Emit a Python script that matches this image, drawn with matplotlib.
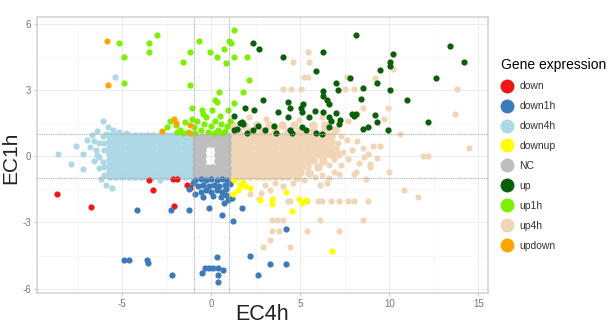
import numpy as np
import matplotlib.pyplot as plt
from matplotlib.lines import Line2D

plt.rcParams['font.family'] = ['Liberation Sans', 'DejaVu Sans']
plt.rcParams['axes.unicode_minus'] = False

# 表达类别与颜色
categories = ['down', 'down1h', 'down4h', 'downup', 'NC', 'up', 'up1h', 'up4h', 'updown']
colors = ['#f41414', '#3d7ab8', '#add8e6', '#ffff00', '#bebebe',
          '#0b5f0b', '#7cf000', '#f0d6b6', '#ffa500']

# 不变基因 (NC)
nc = [(-0.85, 0.88), (-0.55, 0.88), (-0.25, 0.88), (0.05, 0.88), (0.35, 0.88), (0.65, 0.88), (0.88, 0.88),
      (-0.85, 0.6), (-0.55, 0.6), (-0.25, 0.6), (0.05, 0.6), (0.35, 0.6), (0.65, 0.6), (0.88, 0.6),
      (-0.85, 0.32), (-0.55, 0.32), (0.35, 0.32), (0.65, 0.32), (0.88, 0.32),
      (-0.85, 0.04), (-0.55, 0.04), (0.4, 0.04), (0.65, 0.04), (0.88, 0.04),
      (-0.85, -0.24), (-0.55, -0.24), (0.35, -0.24), (0.65, -0.24), (0.88, -0.24),
      (-0.85, -0.52), (-0.55, -0.52), (-0.25, -0.52), (0.05, -0.52), (0.35, -0.52), (0.65, -0.52), (0.88, -0.52),
      (-0.85, -0.8), (-0.55, -0.8), (-0.25, -0.8), (0.05, -0.8), (0.35, -0.8), (0.65, -0.8), (0.88, -0.8)]

# 4h 下调：密集区
down4h = [(-1.15, 0.9), (-1.5, 0.9), (-1.85, 0.9), (-2.2, 0.9), (-2.55, 0.9), (-2.9, 0.9), (-3.25, 0.9),
          (-3.6, 0.9), (-3.95, 0.9), (-4.3, 0.9), (-4.65, 0.9), (-5.0, 0.9), (-5.35, 0.9), (-5.7, 0.9),
          (-1.15, 0.63), (-1.5, 0.63), (-1.85, 0.63), (-2.2, 0.63), (-2.55, 0.63), (-2.9, 0.63), (-3.25, 0.63),
          (-3.6, 0.63), (-3.95, 0.63), (-4.3, 0.63), (-4.65, 0.63), (-5.0, 0.63), (-5.35, 0.63), (-5.7, 0.63),
          (-1.15, 0.36), (-1.5, 0.36), (-1.85, 0.36), (-2.2, 0.36), (-2.55, 0.36), (-2.9, 0.36), (-3.25, 0.36),
          (-3.6, 0.36), (-3.95, 0.36), (-4.3, 0.36), (-4.65, 0.36), (-5.0, 0.36), (-5.35, 0.36), (-5.7, 0.36),
          (-1.15, 0.09), (-1.5, 0.09), (-1.85, 0.09), (-2.2, 0.09), (-2.55, 0.09), (-2.9, 0.09), (-3.25, 0.09),
          (-3.6, 0.09), (-3.95, 0.09), (-4.3, 0.09), (-4.65, 0.09), (-5.0, 0.09), (-5.35, 0.09), (-5.7, 0.09),
          (-1.15, -0.18), (-1.5, -0.18), (-1.85, -0.18), (-2.2, -0.18), (-2.55, -0.18), (-2.9, -0.18), (-3.25, -0.18),
          (-3.6, -0.18), (-3.95, -0.18), (-4.3, -0.18), (-4.65, -0.18), (-5.0, -0.18), (-5.35, -0.18), (-5.7, -0.18),
          (-1.15, -0.45), (-1.5, -0.45), (-1.85, -0.45), (-2.2, -0.45), (-2.55, -0.45), (-2.9, -0.45), (-3.25, -0.45),
          (-3.6, -0.45), (-3.95, -0.45), (-4.3, -0.45), (-4.65, -0.45), (-5.0, -0.45), (-5.35, -0.45), (-5.7, -0.45),
          (-1.15, -0.72), (-1.5, -0.72), (-1.85, -0.72), (-2.2, -0.72), (-2.55, -0.72), (-2.9, -0.72), (-3.25, -0.72),
          (-3.6, -0.72), (-3.95, -0.72), (-4.3, -0.72), (-4.65, -0.72), (-5.0, -0.72), (-5.35, -0.72), (-5.7, -0.72),
          (-1.15, -0.92), (-1.5, -0.92), (-1.85, -0.92), (-2.2, -0.92), (-2.55, -0.92), (-2.9, -0.92), (-3.25, -0.92),
          (-3.6, -0.92), (-3.95, -0.92), (-4.3, -0.92), (-4.65, -0.92), (-5.0, -0.92), (-5.35, -0.92), (-5.7, -0.92)]

# 4h 下调：散点
down4h_sparse = [(-6.1, 1.6), (-5.8, 1.3), (-6.4, 1.15), (-5.5, 1.2), (-5.2, 1.1), (-4.8, 1.05), (-6.7, 0.95),
                 (-7.0, 0.75), (-6.1, 0.9), (-6.3, 0.6), (-6.0, 0.3), (-6.4, 0.05), (-6.1, -0.25), (-6.3, -0.55),
                 (-6.0, -0.85), (-7.2, 0.1), (-7.6, 0.45), (-7.9, -0.35), (-8.6, 0.1), (-7.2, -0.6), (-6.6, -0.2),
                 (-6.8, 0.4), (-6.2, -1.05), (-5.9, -1.3), (-5.6, -1.45), (-2.9, -1.1), (-5.4, 3.6),
                 (-6.5, 0.3), (-6.0, 0.6), (-6.3, -0.05), (-6.0, -0.5), (-6.6, 0.7), (-5.9, 1.0)]

# 4h 上调：密集区
up4h = [(1.15, 1.4), (1.85, 1.4), (2.55, 1.4), (3.25, 1.4), (3.95, 1.4), (4.65, 1.4), (5.7, 1.4), (6.4, 1.4),
        (1.5, 1.15), (2.2, 1.15), (2.9, 1.15), (3.6, 1.15), (4.3, 1.15), (5.0, 1.15), (5.7, 1.15), (6.4, 1.15), (6.95, 1.2),
        (1.15, 0.9), (1.5, 0.9), (1.85, 0.9), (2.2, 0.9), (2.55, 0.9), (2.9, 0.9), (3.25, 0.9), (3.6, 0.9), (3.95, 0.9),
        (4.3, 0.9), (4.65, 0.9), (5.0, 0.9), (5.35, 0.9), (5.7, 0.9), (6.05, 0.9), (6.4, 0.9), (6.75, 0.9),
        (1.15, 0.63), (1.5, 0.63), (1.85, 0.63), (2.2, 0.63), (2.55, 0.63), (2.9, 0.63), (3.25, 0.63), (3.6, 0.63), (3.95, 0.63),
        (4.3, 0.63), (4.65, 0.63), (5.0, 0.63), (5.35, 0.63), (5.7, 0.63), (6.05, 0.63), (6.4, 0.63), (6.75, 0.63),
        (1.15, 0.36), (1.5, 0.36), (1.85, 0.36), (2.2, 0.36), (2.55, 0.36), (2.9, 0.36), (3.25, 0.36), (3.6, 0.36), (3.95, 0.36),
        (4.3, 0.36), (4.65, 0.36), (5.0, 0.36), (5.35, 0.36), (5.7, 0.36), (6.05, 0.36), (6.4, 0.36), (6.75, 0.36),
        (1.15, 0.09), (1.5, 0.09), (1.85, 0.09), (2.2, 0.09), (2.55, 0.09), (2.9, 0.09), (3.25, 0.09), (3.6, 0.09), (3.95, 0.09),
        (4.3, 0.09), (4.65, 0.09), (5.0, 0.09), (5.35, 0.09), (5.7, 0.09), (6.05, 0.09), (6.4, 0.09), (6.75, 0.09), (7.1, 0.1),
        (1.15, -0.18), (1.5, -0.18), (1.85, -0.18), (2.2, -0.18), (2.55, -0.18), (2.9, -0.18), (3.25, -0.18), (3.6, -0.18),
        (3.95, -0.18), (4.3, -0.18), (4.65, -0.18), (5.0, -0.18), (5.35, -0.18), (5.7, -0.18), (6.3, -0.2),
        (1.15, -0.45), (1.5, -0.45), (1.85, -0.45), (2.2, -0.45), (2.55, -0.45), (2.9, -0.45), (3.25, -0.45), (3.6, -0.45),
        (3.95, -0.45), (4.3, -0.45), (4.65, -0.45), (5.0, -0.45), (5.35, -0.45), (6.0, -0.5),
        (1.15, -0.72), (1.5, -0.72), (1.85, -0.72), (2.2, -0.72), (2.55, -0.72), (2.9, -0.72), (3.25, -0.72), (3.6, -0.72),
        (3.95, -0.72), (4.3, -0.72), (4.65, -0.72), (5.0, -0.72), (5.5, -0.75),
        (1.15, -0.92), (1.5, -0.92), (1.85, -0.92), (2.2, -0.92), (2.55, -0.92), (2.9, -0.92), (3.25, -0.92), (3.6, -0.92),
        (3.95, -0.92), (4.3, -0.92), (4.8, -0.95)]

# 4h 上调：散点
up4h_sparse = [(7.1, 0.6), (7.4, 0.2), (7.3, -0.4), (6.9, -0.7), (7.6, 0.75), (8.2, 0.7), (8.5, 0.35), (8.8, 0.1),
               (9.1, 0.45), (9.5, 0.45), (8.6, -0.05), (9.3, -0.1), (8.9, -0.35), (8.1, -0.7), (8.9, -0.5), (10.0, -0.7),
               (10.6, 1.0), (11.9, 0.0), (12.2, 0.0), (14.5, 0.35), (7.9, 0.3), (8.3, -0.3), (7.7, -0.15), (6.2, -0.85),
               (6.6, -1.0), (4.6, 4.25), (5.45, 4.7), (5.5, 4.25), (5.2, 3.6), (5.45, 3.6), (4.0, 3.05), (4.5, 3.05),
               (5.05, 3.05), (7.6, 3.6), (7.5, 3.05), (8.0, 3.05), (9.2, 3.55), (10.2, 3.95), (8.5, 2.2), (9.9, 2.2),
               (9.7, 1.7), (13.8, 3.05), (13.7, 1.9), (7.7, 1.6), (8.2, 1.9), (3.1, 1.7), (2.1, 1.75), (4.9, 1.65),
               (6.2, 1.75), (8.7, -1.05), (10.8, -1.55), (11.6, -1.85), (4.3, -2.05), (4.4, -2.05), (5.4, -2.05),
               (6.0, -2.05), (6.2, -2.05), (6.7, -2.05), (7.2, -2.05), (7.7, -2.05), (8.0, -2.05), (8.8, -2.05),
               (3.4, -2.9), (3.7, -2.9), (4.0, -2.9), (6.1, -2.9), (8.5, -2.9), (3.4, -3.4), (3.8, -3.4), (5.4, -3.4),
               (7.2, -3.4), (3.3, -3.8), (2.9, -4.1), (4.4, -4.1), (5.2, -1.1), (6.1, -1.3), (6.5, -1.2), (7.2, -0.8),
               (8.0, -0.8), (2.2, -1.7), (2.8, -1.65), (2.7, -1.95), (3.0, -1.3), (3.6, -1.2), (4.0, -1.35), (4.6, -1.2),
               (3.3, -1.55), (5.8, -0.95), (6.6, -0.4), (7.0, 0.35), (7.3, 0.9), (6.9, -0.15)]

down = [(-8.65, -1.7), (-6.75, -2.3), (-3.5, -1.1), (-3.25, -1.55), (-2.15, -1.05), (-1.95, -1.05),
        (-2.1, -2.25), (-1.35, -1.3), (-1.2, -1.45)]

down1h = [(-4.2, -2.45), (-2.25, -2.45), (-1.25, -2.45), (-0.15, -2.35), (0.6, -2.65), (1.2, -2.95),
          (1.7, -2.35), (2.15, -4.5), (-4.9, -4.7), (-4.65, -4.7), (-3.6, -4.7), (-3.55, -4.85), (-2.2, -5.4),
          (0.3, -4.55), (-0.35, -5.05), (-0.15, -5.05), (0.1, -5.05), (0.35, -5.05), (-0.5, -5.3), (0.65, -5.15),
          (0.4, -5.4), (0.4, -5.7), (4.2, -3.3), (3.3, -4.9), (4.2, -4.9), (2.6, -5.4),
          (-1.25, -1.5), (-0.9, -1.1), (-0.6, -1.05), (-0.3, -1.1), (0.0, -1.05), (0.3, -1.1), (0.6, -1.05),
          (0.9, -1.1), (-0.75, -1.35), (-0.45, -1.3), (-0.15, -1.35), (0.15, -1.3), (0.45, -1.35), (0.75, -1.3),
          (1.05, -1.25), (-0.6, -1.6), (-0.3, -1.55), (0.0, -1.6), (0.3, -1.55), (0.6, -1.6), (0.85, -1.5),
          (-0.45, -1.85), (0.1, -1.8), (0.55, -1.85), (0.8, -1.75), (0.95, -2.0), (0.7, -2.1), (1.15, -1.9),
          (-1.05, -1.2), (-0.9, -1.7)]

downup = [(1.3, -1.1), (1.6, -1.3), (1.9, -1.35), (2.2, -1.45), (1.5, -1.55), (1.2, -1.7), (1.8, -1.15),
          (2.75, -2.0), (3.4, -1.95), (3.4, -2.15), (4.2, -1.6), (4.9, -1.95), (5.1, -2.1), (5.3, -2.0),
          (4.55, -2.5), (6.8, -4.3)]

up = [(2.35, 5.1), (2.7, 4.85), (4.0, 4.5), (6.3, 4.7), (8.1, 5.5), (13.4, 5.0), (14.2, 4.25), (5.9, 3.85),
      (10.2, 4.6), (10.05, 4.25), (10.05, 4.1), (9.45, 3.9), (9.3, 3.3), (10.05, 3.0), (12.6, 3.55), (11.0, 2.55),
      (12.2, 1.55), (9.95, 1.2), (9.2, 1.85), (9.3, 1.55), (8.8, 1.3), (8.5, 1.25), (8.4, 2.6), (8.5, 3.1),
      (7.8, 3.55), (7.0, 3.3), (7.1, 3.0), (6.3, 2.95), (6.25, 2.7), (6.5, 2.55), (6.6, 2.35), (7.9, 1.9),
      (8.0, 1.8), (8.15, 1.9), (2.9, 2.55), (1.9, 2.2), (2.4, 2.1), (3.75, 2.0), (4.3, 2.45), (4.4, 2.2),
      (5.05, 2.2), (5.15, 2.35), (5.1, 2.0), (5.5, 1.75), (5.8, 2.05), (6.3, 2.0), (4.3, 1.75), (6.6, 1.75),
      (6.7, 1.6), (7.0, 1.95), (7.25, 1.65), (7.15, 1.45), (6.6, 1.3), (1.8, 1.45), (1.75, 1.55), (2.35, 1.2),
      (2.65, 1.35), (3.5, 1.35), (3.65, 1.05), (4.4, 1.2), (4.55, 1.05), (5.1, 1.3), (5.3, 1.2), (5.9, 1.05),
      (6.2, 1.0), (1.25, 1.8), (1.6, 1.5), (1.25, 1.2), (1.45, 1.25), (3.0, 1.2), (2.0, 1.05)]

up1h = [(-5.2, 5.1), (-4.9, 4.5), (-3.5, 5.1), (-3.5, 4.7), (-3.05, 5.5), (-4.9, 3.3), (-1.6, 4.25),
        (-1.2, 4.7), (-0.7, 5.2), (-1.2, 3.2), (-1.1, 2.2), (-0.1, 4.7), (0.3, 4.5), (0.7, 4.85), (0.8, 4.2),
        (1.0, 5.2), (1.1, 5.1), (1.25, 5.7), (1.25, 4.5), (2.0, 4.5), (2.1, 3.45), (0.45, 2.9), (0.2, 2.55),
        (0.3, 2.45), (-0.45, 1.9), (0.05, 2.1), (0.95, 2.1), (1.3, 2.4), (1.8, 2.9),
        (-2.3, 1.6), (-2.0, 1.4), (-1.75, 1.2), (-1.5, 1.55), (-1.9, 1.1), (-1.0, 1.3), (-0.8, 1.6), (-0.6, 1.2),
        (-0.4, 1.45), (-0.2, 1.1), (0.0, 1.35), (0.2, 1.6), (0.35, 1.2), (0.55, 1.45), (0.75, 1.15), (0.9, 1.35),
        (-0.3, 1.75), (0.5, 1.8), (-1.3, 1.1), (-2.5, 1.3), (-0.9, 1.05), (0.15, 1.05), (0.6, 1.05), (1.05, 1.6),
        (-1.6, 1.05), (-1.1, 1.7), (-0.55, 2.1)]

updown = [(-5.85, 5.2), (-5.8, 3.2), (-2.75, 1.15), (-2.1, 1.7), (-1.2, 1.4), (-1.2, 1.05), (-2.0, 1.5)]

# (类别, 点集, 点大小)，按绘制顺序
layers = [('down4h', down4h_sparse, 20), ('up4h', up4h_sparse, 20),
          ('down4h', down4h, 38), ('up4h', up4h, 38), ('NC', nc, 38),
          ('down', down, 20), ('down1h', down1h, 20), ('downup', downup, 20),
          ('up', up, 20), ('up1h', up1h, 20), ('updown', updown, 20)]

fig = plt.figure(figsize=(6.14, 3.32), dpi=100)
ax = fig.add_axes([0.060, 0.117, 0.735, 0.832])

for name, pts, size in layers:
    xy = np.array(pts)
    c = colors[categories.index(name)]
    ax.scatter(xy[:, 0], xy[:, 1], s=size, color=c, linewidths=0, zorder=3)

# 阈值线 |logFC| = 1
for v in (-1, 1):
    ax.axvline(v, color='#aaaaaa', ls=(0, (1, 1)), lw=0.8, zorder=4)
    ax.axhline(v, color='#aaaaaa', ls=(0, (1, 1)), lw=0.8, zorder=4)

ax.set_xlim(-9.8, 15.55)
ax.set_ylim(-6.2, 6.3)
ax.set_xticks([-5, 0, 5, 10, 15])
ax.set_yticks([-6, -3, 0, 3, 6])
ax.set_xticks([-7.5, -2.5, 2.5, 7.5, 12.5], minor=True)
ax.set_yticks([-4.5, -1.5, 1.5, 4.5], minor=True)
ax.grid(which='major', color='#ebebeb', lw=0.7, zorder=0)
ax.grid(which='minor', color='#f4f4f4', lw=0.5, zorder=0)
ax.set_axisbelow(True)
ax.tick_params(which='both', length=2, color='#cccccc', labelsize=7, labelcolor='#777777', pad=2)
ax.tick_params(which='minor', length=0)
for sp in ax.spines.values():
    sp.set_color('#d4d4d4')
    sp.set_linewidth(1.2)

ax.set_xlabel('EC4h', fontsize=15.5, color='#222222')
ax.set_ylabel('EC1h', fontsize=15, color='#222222')
ax.xaxis.set_label_coords(0.5, -0.04)
ax.yaxis.set_label_coords(-0.036, 0.49)

handles = [Line2D([], [], ls='', marker='o', markersize=9, color=c) for c in colors]
leg = fig.legend(handles, categories, title='Gene expression', loc='upper left',
                 bbox_to_anchor=(0.80, 0.855), frameon=False, fontsize=7.5,
                 title_fontsize=10, labelspacing=0.95, handletextpad=0.6,
                 handlelength=1.2, alignment='left')
for t in leg.get_texts():
    t.set_color('#333333')

plt.savefig('out.png', dpi=100)
